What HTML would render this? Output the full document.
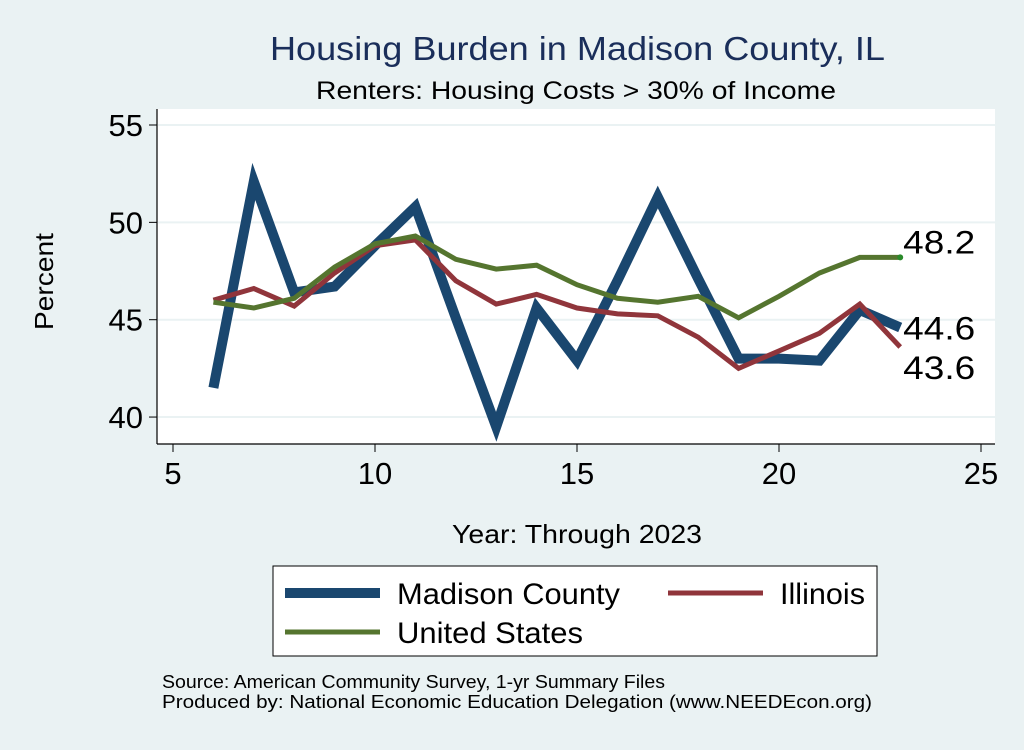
<!DOCTYPE html>
<html><head><meta charset="utf-8"><style>
body{margin:0;background:#eaf2f3;font-family:"Liberation Sans",sans-serif}
</style></head><body>
<svg width="1024" height="745" xmlns="http://www.w3.org/2000/svg" font-family="Liberation Sans, sans-serif">
<rect width="1024" height="745" fill="#eaf2f3"/>
<text x="270" y="60" textLength="615" lengthAdjust="spacingAndGlyphs" font-size="33" fill="#1a2e5a">Housing Burden in Madison County, IL</text>
<text x="316" y="99" textLength="520" lengthAdjust="spacingAndGlyphs" font-size="25" fill="#000">Renters: Housing Costs &gt; 30% of Income</text>
<rect x="157" y="109" width="838" height="335" fill="#fff"/>
<g id="grid"></g>
<g id="axes"></g>
<g id="series"></g>
<text transform="translate(53,330) rotate(-90)" textLength="97" lengthAdjust="spacingAndGlyphs" font-size="26">Percent</text>
<text x="452" y="543" textLength="250" lengthAdjust="spacingAndGlyphs" font-size="26">Year: Through 2023</text>
<g>
<rect x="273" y="566" width="604" height="90" fill="#fff" stroke="#000" stroke-width="1"/>
<line x1="285" y1="593" x2="380" y2="593" stroke="#1a476f" stroke-width="10"/>
<text x="397" y="604" textLength="223" lengthAdjust="spacingAndGlyphs" font-size="30">Madison County</text>
<line x1="668" y1="593" x2="763" y2="593" stroke="#90353b" stroke-width="5"/>
<text x="780" y="604" textLength="85" lengthAdjust="spacingAndGlyphs" font-size="30">Illinois</text>
<line x1="285" y1="632" x2="380" y2="632" stroke="#55752f" stroke-width="5"/>
<text x="397" y="643" textLength="186" lengthAdjust="spacingAndGlyphs" font-size="30">United States</text>
</g>
<text x="162" y="688" textLength="503" lengthAdjust="spacingAndGlyphs" font-size="18">Source: American Community Survey, 1-yr Summary Files</text>
<text x="162" y="708" textLength="710" lengthAdjust="spacingAndGlyphs" font-size="18">Produced by: National Economic Education Delegation (www.NEEDEcon.org)</text>
</svg>
<script>
const years=[6,7,8,9,10,11,12,13,14,15,16,17,18,19,20,21,22,23];
const madison=[41.5,52.1,46.4,46.7,48.8,50.8,45.1,39.5,45.6,42.9,47.0,51.3,47.1,43.0,43.0,42.9,45.5,44.6];
const illinois=[46.0,46.6,45.7,47.4,48.8,49.1,47.0,45.8,46.3,45.6,45.3,45.2,44.1,42.5,43.4,44.3,45.8,43.6];
const us=[45.9,45.6,46.1,47.7,48.9,49.3,48.1,47.6,47.8,46.8,46.1,45.9,46.2,45.1,46.2,47.4,48.2,48.2];
const xTicks=[5,10,15,20,25];
const yTicks=[40,45,50,55];
const NS='http://www.w3.org/2000/svg';
const X=v=>173+(v-5)*40.4;
const Y=v=>125+(55-v)*19.47;
function mk(tag,attrs,parent,txt){const e=document.createElementNS(NS,tag);for(const k in attrs)e.setAttribute(k,attrs[k]);if(txt!==undefined)e.textContent=txt;document.getElementById(parent).appendChild(e);return e;}
const axes='axes';
let l=mk('line',{x1:157,y1:109,x2:157,y2:444,stroke:'#000','stroke-width':1.2},axes);


l=mk('line',{x1:157,y1:444,x2:995,y2:444,stroke:'#000','stroke-width':1.2},axes);


yTicks.forEach(t=>{
 let g=mk('line',{x1:158,y1:Y(t),x2:995,y2:Y(t),stroke:'#eaf2f3','stroke-width':2},'grid');
 
 
 let k=mk('line',{x1:149,y1:Y(t),x2:157,y2:Y(t),stroke:'#000'},axes);
 
 
 let s=mk('text',{x:143,y:Y(t)+11,'text-anchor':'end','font-size':31},axes,String(t));
 
 
});
xTicks.forEach(t=>{
 let k=mk('line',{x1:X(t),y1:444,x2:X(t),y2:452,stroke:'#000'},axes);
 
 
 let s=mk('text',{x:X(t),y:484,'text-anchor':'middle','font-size':31},axes,String(t));
 
 
});
function draw(vals,color,w,name){
 const d=vals.map((v,i)=>(i?'L':'M')+X(years[i]).toFixed(1)+','+Y(v).toFixed(1)).join('');
 let p=mk('path',{d:d,fill:'none',stroke:color,'stroke-width':w,'stroke-linejoin':'miter'},'series');
 
 
}
draw(madison,'#1a476f',10,'line-madison-county');
draw(illinois,'#90353b',5,'line-illinois');
draw(us,'#55752f',5,'line-united-states');
const n=years.length-1;
let dot=mk('circle',{cx:X(years[n]),cy:Y(us[n]),r:3,fill:'#2a8a2a'},'series');


[[us[n],-4,'end-label-us'],[madison[n],+12,'end-label-madison'],[illinois[n],+32,'end-label-illinois']].forEach(([v,dy,nm])=>{
 let t=mk('text',{x:X(years[n])+3,y:Y(v)+dy,'font-size':32,textLength:72,lengthAdjust:'spacingAndGlyphs'},'series',v.toFixed(1));
 
 
});
</script>
</body></html>
